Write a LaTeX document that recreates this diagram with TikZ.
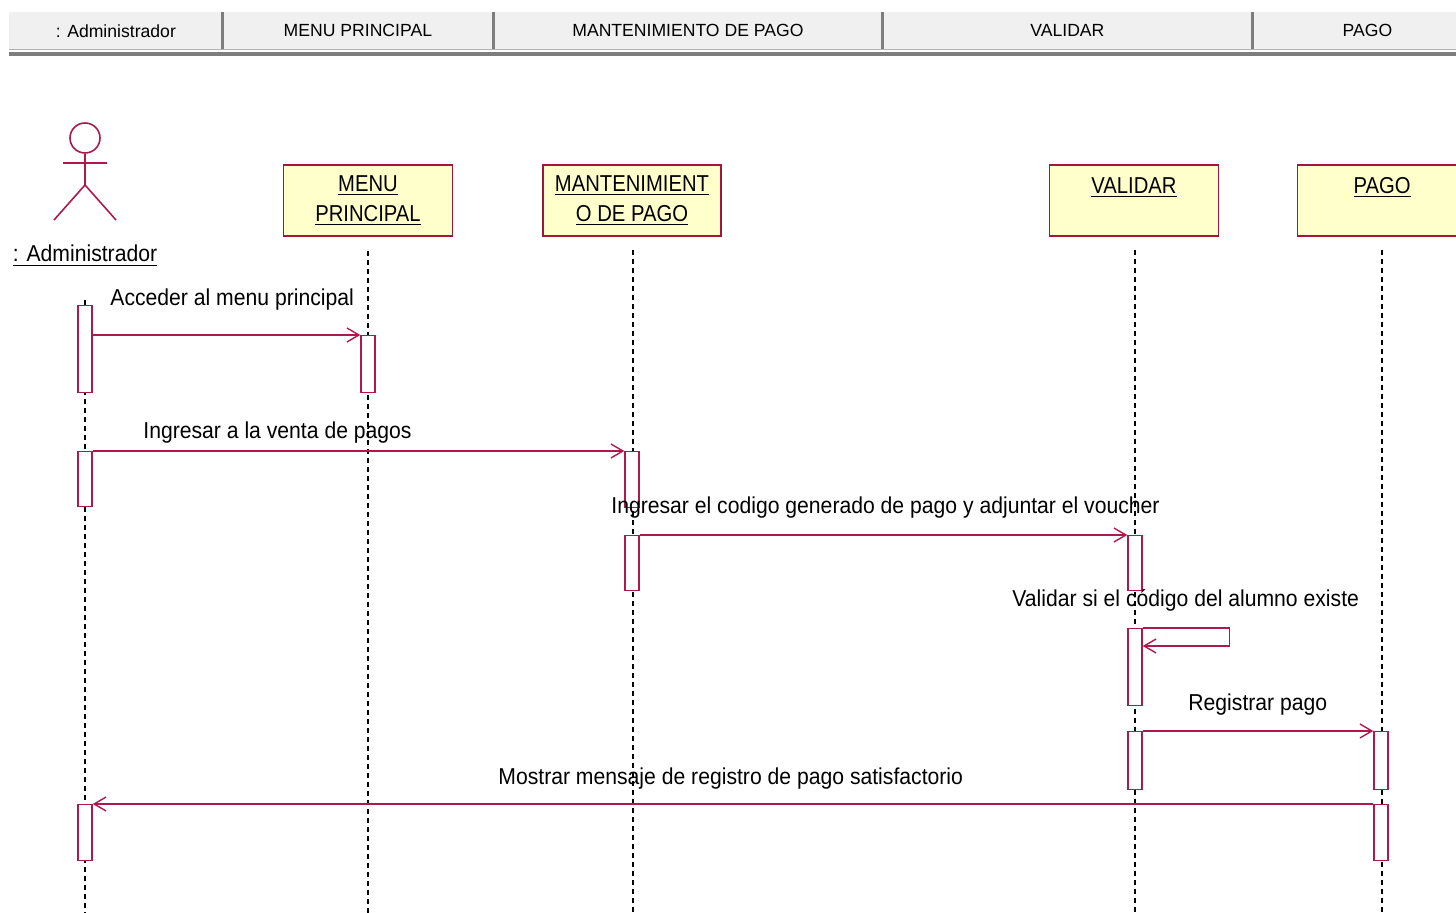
\documentclass[tikz,border=0pt]{standalone}
\usepackage{fontspec}
\setmainfont{Liberation Sans}
\newfontfamily\umlfont[FakeStretch=0.92]{Liberation Sans}
\newfontfamily\objfont[FakeStretch=0.88]{Liberation Sans}
\usetikzlibrary{positioning, arrows.meta}
\definecolor{umlrojo}{RGB}{172,26,76}
\definecolor{umlborde}{RGB}{160,22,62}
\definecolor{umlfondo}{RGB}{255,255,204}
\definecolor{cabecera}{RGB}{240,240,240}
\definecolor{cabborde}{RGB}{125,125,125}

\tikzset{
  cab/.style={fill=cabecera, minimum height=18.5pt, inner sep=0pt, anchor=north west,
              font=\fontsize{8.8}{10}\selectfont},
  objeto/.style={draw=umlborde, line width=0.8pt, fill=umlfondo, minimum width=84.5pt,
                 minimum height=35.5pt, align=center, inner sep=2pt,
                 font=\objfont\fontsize{11.5}{15}\selectfont},
  activ/.style={draw=umlrojo, fill=white, line width=0.7pt, minimum width=7pt,
                inner sep=0pt, anchor=north},
  vida/.style={draw=black, line width=0.6pt, dash pattern=on 2.5pt off 2pt},
  msg/.style={draw=umlrojo, line width=0.7pt, -{Straight Barb[length=6pt,width=7pt]}},
  etiq/.style={anchor=base west, inner sep=0pt, font=\umlfont\fontsize{11.5}{13}\selectfont}
}

\begin{document}
\begin{tikzpicture}[x=0.5pt, y=-0.5pt]
    \useasboundingbox (0,0) rectangle (1456,913);

    % Cabecera
    \node[cab, minimum width=106.5pt] (h1) at (9,12) {: Administrador\hspace{10pt}};
    \node[cab, minimum width=135.5pt] (h2) at (222,12) {MENU PRINCIPAL};
    \node[cab, minimum width=194.5pt] (h3) at (493,12) {MANTENIMIENTO DE PAGO};
    \node[cab, minimum width=185pt] (h4) at (882,12) {VALIDAR};
    \node[cab, minimum width=115pt] (h5) at (1252,12) {PAGO};
    \foreach \h in {h1,h2,h3,h4}
        \draw[cabborde, line width=1.5pt] (\h.north east) -- (\h.south east);
    \draw[cabborde!60, line width=0.6pt] (h1.south west) -- (h5.south east);
    \draw[cabborde, line width=2.2pt] ([yshift=-2pt]h1.south west) -- ([yshift=-2pt]h5.south east);

    % Actor
    \node[circle, draw=umlrojo, line width=0.8pt, minimum size=15pt, inner sep=0pt] (cabeza) at (85,138) {};
    \coordinate (cadera) at (85,185);
    \draw[umlrojo, line width=0.8pt] (cabeza.south) -- (cadera)
        (63,163) -- (107,163)
        (cadera) -- (54,220) (cadera) -- (116,220);
    \node[anchor=base, inner sep=0pt, font=\umlfont\fontsize{11.5}{13}\selectfont] (actor) at (85,262)
        {\underline{: Administrador}};

    % Objetos
    \node[objeto] (menu) at (368,200.5) {\underline{MENU}\\\underline{PRINCIPAL}};
    \node[objeto, minimum width=89pt] (mant) at (632,200.5) {\underline{MANTENIMIENT}\\\underline{O DE PAGO}};
    \node[objeto] (valid) at (1134,200.5) {\underline{VALIDAR}\\\mbox{}};
    \node[objeto] (pago) at (1382,200.5) {\underline{PAGO}\\\mbox{}};

    % Lineas de vida
    \draw[vida] (85,300) -- (85,913);
    \draw[vida] ([yshift=-7pt]menu.south) -- (menu.south |- 0,913);
    \draw[vida] (633,250) -- (633,913);
    \draw[vida] (1135,250) -- (1135,913);
    \draw[vida] (1382,250) -- (1382,913);

    % Activaciones
    \node[activ, minimum height=43.5pt] (a1) at (85,305) {};
    \node[activ, minimum height=28.5pt] (m1) at (368,335) {};
    \node[activ, minimum height=27.5pt] (a2) at (85,451) {};
    \node[activ, minimum height=28pt] (t1) at (632,451) {};
    \node[activ, minimum height=27.5pt] (t2) at (632,535) {};
    \node[activ, minimum height=27.5pt] (v1) at (1135,535) {};
    \node[activ, minimum height=38.5pt] (v2) at (1135,628) {};
    \node[activ, minimum height=29pt] (v3) at (1135,731) {};
    \node[activ, minimum height=29pt] (p1) at (1381,731) {};
    \node[activ, minimum height=28pt] (p2) at (1381,804) {};
    \node[activ, minimum height=28pt] (a3) at (85,804) {};

    % Mensajes
    \draw[msg] (a1.east |- m1.north) -- (m1.north west);
    \node[etiq] (l1) at (110,306) {Acceder al menu principal};

    \draw[msg] (a2.north east) -- (t1.north west);
    \node[etiq] (l2) at (143,439) {Ingresar a la venta de pagos};

    \draw[msg] (t2.north east) -- (v1.north west);
    \node[etiq] (l3) at (611,514) {Ingresar el codigo generado de pago y adjuntar el voucher};

    \draw[msg] (v2.north east) -- ++(87,0) -- ++(0,18) -- ++(-87,0);
    \node[etiq] (l4) at (1012,607) {Validar si el código del alumno existe};

    \draw[msg] (v3.north east) -- (p1.north west);
    \node[etiq] (l5) at (1188,711) {Registrar pago};

    \draw[msg] (p2.north west) -- (a3.north east);
    \node[etiq] (l6) at (498,784) {Mostrar mensaje de registro de pago satisfactorio};
\end{tikzpicture}
\end{document}
